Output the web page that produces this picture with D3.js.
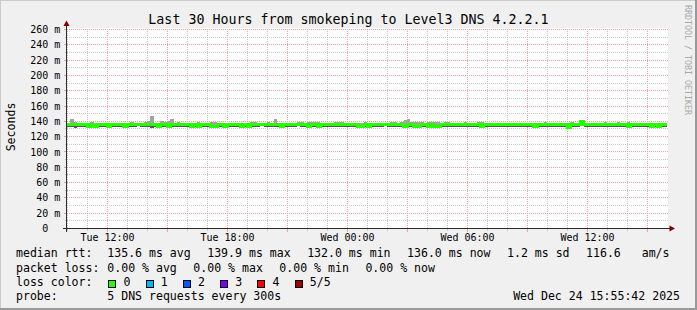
<!DOCTYPE html>
<html>
<head>
<meta charset="utf-8">
<script src="https://cdn.jsdelivr.net/npm/d3@7"></script>
<style>
  body { margin: 0; background: #fff; }
  svg text { font-family: "DejaVu Sans Mono", monospace; fill: #000; white-space: pre; }
</style>
</head>
<body>
<svg id="chart" width="697" height="310"></svg>
<script>
// Graph period: 30 hours, one sample every 10 minutes
const startTime = new Date(2025, 11, 23, 9, 58, 30)
const stepMinutes = 10

// Median round trip time per sample (ms)
const median = [
  135.8,135.6,135.5,135.7,135.6,135.4,133.0,135.5,133.2,135.6,135.7,135.5,132.8,135.6,135.6,135.8,135.5,133.1,135.6,135.7,
  135.6,135.5,135.7,135.6,135.4,135.6,135.8,133.0,135.6,135.5,132.9,135.6,135.7,135.9,136.0,135.8,135.6,133.1,135.7,133.0,
  135.6,135.7,135.5,133.2,133.0,135.6,135.5,133.1,135.6,135.7,135.8,135.6,133.0,135.5,132.9,135.6,135.7,135.6,135.5,135.6,
  135.7,135.6,135.8,135.6,133.0,135.5,135.6,135.7,135.6,135.5,135.6,135.7,133.1,135.6,135.5,132.8,135.6,135.7,135.6,135.5,
  135.6,135.7,135.8,135.6,135.5,135.6,135.7,133.0,133.2,135.6,132.9,135.6,135.5,135.7,135.6,135.8,135.6,135.5,135.6,135.7,
  135.6,133.0,135.6,135.7,133.1,133.0,135.6,135.5,132.9,135.6,133.4,133.2,135.6,135.7,135.6,135.8,135.6,135.5,135.6,135.7,
  135.6,135.7,135.6,135.5,133.0,135.6,135.7,135.6,135.8,135.6,135.5,135.6,135.7,135.6,135.5,135.6,135.7,135.6,135.6,135.5,
  133.1,135.6,135.7,135.6,135.5,135.6,135.7,135.6,135.6,135.5,132.0,135.6,135.7,135.8,139.2,135.7,135.6,135.6,135.5,135.6,
  135.6,135.7,135.6,135.5,135.6,135.7,135.6,135.8,133.0,135.6,135.5,135.6,135.7,135.6,135.6,133.1,135.6,132.9,135.6,136.0
]

// Slowest ping of each sample (top of the smoke)
const pingHi = [
  138.0,143.5,139.5,137.5,137.5,138.0,137.5,139.0,137.5,137.5,138.0,137.5,137.5,137.5,138.0,137.5,137.5,137.5,137.5,139.0,
  137.5,138.0,137.5,139.5,140.0,147.0,138.0,137.5,141.0,139.5,140.0,143.5,137.5,139.5,137.5,137.5,137.5,138.0,137.5,139.5,
  137.5,137.5,137.5,139.5,139.0,137.5,137.5,137.5,137.5,138.0,137.5,137.5,137.5,137.5,137.5,139.5,139.5,137.5,137.5,137.5,
  139.5,137.5,142.5,137.5,137.5,137.5,137.5,137.5,138.0,139.5,139.5,137.5,139.5,139.0,139.5,139.5,137.5,137.5,137.5,137.5,
  139.5,139.5,139.0,137.5,137.5,137.5,137.5,137.5,137.5,139.5,137.5,137.5,137.5,137.5,137.5,137.5,138.0,139.5,139.5,137.5,
  139.5,141.5,143.0,139.5,139.5,139.5,139.0,137.5,139.5,139.5,139.5,139.0,137.5,139.5,139.5,137.5,137.5,137.5,137.5,139.5,
  137.5,137.5,137.5,139.5,139.0,137.5,137.5,137.5,137.5,137.5,137.5,137.5,137.5,137.5,137.5,137.5,137.5,137.5,137.5,137.5,
  137.5,137.5,137.5,139.0,137.5,137.5,137.5,137.5,137.5,137.5,137.5,139.0,137.5,137.5,140.8,137.5,137.5,137.5,137.5,137.5,
  137.5,139.0,137.5,137.5,137.5,139.0,137.5,137.5,139.0,137.5,137.5,137.5,137.5,137.5,137.5,137.5,137.5,137.5,137.5,137.5
]

// Fastest ping of each sample (bottom of the smoke)
const pingLo = [
  132.0,132.0,131.8,132.0,132.5,132.0,131.5,132.0,131.8,132.0,132.0,132.0,131.5,132.0,132.0,133.0,132.0,131.8,132.0,132.0,
  132.0,134.5,132.0,132.0,132.0,131.8,132.0,131.5,132.0,132.0,131.5,132.0,132.0,133.0,132.0,132.0,132.0,131.5,132.0,131.5,
  132.0,132.0,132.0,131.8,131.5,132.0,132.0,131.8,132.0,132.0,132.0,132.0,131.5,132.0,131.5,132.0,132.0,132.0,134.5,132.0,
  132.0,132.0,132.0,132.0,131.5,132.0,132.0,132.0,132.0,134.5,132.0,132.0,131.8,132.0,132.0,131.5,132.0,132.0,132.0,132.0,
  132.0,132.0,133.0,132.0,132.0,132.0,132.0,131.5,131.5,132.0,131.5,132.0,132.0,132.0,132.0,134.5,132.0,132.0,132.0,132.0,
  132.0,131.5,132.0,132.0,131.5,131.5,132.0,132.0,131.5,132.0,131.2,131.2,132.0,132.0,132.0,132.0,132.0,133.0,132.0,132.0,
  132.0,132.0,132.0,132.0,131.5,132.0,132.0,132.0,132.0,132.0,133.0,132.0,132.0,132.0,132.0,132.0,132.0,132.0,132.0,132.0,
  131.5,132.0,132.0,132.0,132.0,132.0,132.0,132.0,132.0,132.0,131.5,132.0,132.0,132.0,134.0,132.0,132.0,132.0,132.0,132.0,
  132.0,132.0,132.0,132.0,132.0,132.0,132.0,132.0,131.5,132.0,132.0,132.0,132.0,132.0,132.0,131.5,132.0,131.5,132.0,132.0
]

// Axis ticks and labels
const yTicks = [0, 20, 40, 60, 80, 100, 120, 140, 160, 180, 200, 220, 240, 260]
const yTickLabels = ["0\u00a0\u00a0", "20 m", "40 m", "60 m", "80 m", "100 m", "120 m", "140 m",
                     "160 m", "180 m", "200 m", "220 m", "240 m", "260 m"]
const yMax = 261.3

// Legend texts
const title = "Last 30 Hours from smokeping to Level3 DNS 4.2.2.1"
const rttSummary = ["135.6 ms avg", "139.9 ms max", "132.0 ms min", "136.0 ms now", "1.2 ms sd", "116.6   am/s"]
const lossSummary = ["0.00 % avg", "0.00 % max", "0.00 % min", "0.00 % now"]
const lossLabels = ["0", "1", "2", "3", "4", "5/5"]
const lossColors = ["#26ff00", "#00b8ff", "#0059ff", "#7e00ff", "#ff0000", "#a00000"]
const probeText = "5 DNS requests every 300s"
const stamp = "Wed Dec 24 15:55:42 2025"

const svg = d3.select("#chart")
const W = 697, H = 310
const x0 = 67, x1 = 667, yTop = 28.5, yBot = 228.5

// Background with rrdtool style shaded border
svg.append("rect").attr("width", W).attr("height", H).attr("fill", "#f0f0f0")
svg.append("path").attr("d", `M0,${H} V0 H${W}`).attr("fill", "none")
  .attr("stroke", "#cbcbcb").attr("stroke-width", 2)
svg.append("path").attr("d", `M0,${H - 1} H${W - 1} V0`).attr("fill", "none")
  .attr("stroke", "#999").attr("stroke-width", 2)
svg.append("rect").attr("x", x0).attr("y", 28).attr("width", x1 - x0 + 1).attr("height", 200).attr("fill", "#fff")

const endTime = d3.timeHour.offset(startTime, 30)
const x = d3.scaleTime().domain([startTime, endTime]).range([x0, x1])
const y = d3.scaleLinear().domain([0, yMax]).range([yBot, yTop])

// Grid lines: minor every hour / 10 ms, major every 3 hours / 20 ms
const grid = svg.append("g").attr("shape-rendering", "crispEdges").attr("stroke-width", 1)
const minorColor = "#c8c8c8", majorColor = "#eba0a0"
const hours = d3.timeHour.range(startTime, endTime)
hours.forEach(h => {
  const major = h.getHours() % 3 == 0
  const c = major ? majorColor : minorColor
  grid.append("line").attr("x1", x(h)).attr("x2", x(h)).attr("y1", yTop).attr("y2", yBot)
    .attr("stroke", c).attr("stroke-dasharray", "1,1")
  grid.append("line").attr("x1", x(h)).attr("x2", x(h)).attr("y1", yBot).attr("y2", yBot + (major ? 3 : 2))
    .attr("stroke", c)
})
d3.range(10, yMax, 10).forEach(v => {
  const major = v % 20 == 0
  const c = major ? majorColor : minorColor
  grid.append("line").attr("x1", x0).attr("x2", x1 + 1).attr("y1", y(v)).attr("y2", y(v))
    .attr("stroke", c).attr("stroke-dasharray", "1,1")
  grid.append("line").attr("x1", x0 - (major ? 3 : 2)).attr("x2", x0).attr("y1", y(v)).attr("y2", y(v))
    .attr("stroke", c)
})

// Smoke and median line
const pts = median.map((m, i) => ({
  t: d3.timeMinute.offset(startTime, i * stepMinutes), m: m, lo: pingLo[i], hi: pingHi[i]
}))
pts.push(Object.assign({}, pts[pts.length - 1], { t: endTime }))

const plot = svg.append("g").attr("shape-rendering", "crispEdges")
plot.append("path").datum(pts)
  .attr("d", d3.area().curve(d3.curveStepAfter).x(d => x(d.t)).y0(d => y(d.m)).y1(d => y(d.hi)))
  .attr("fill", "#a4a4a4")
plot.append("path").datum(pts)
  .attr("d", d3.area().curve(d3.curveStepAfter).x(d => x(d.t)).y0(d => y(d.lo)).y1(d => y(d.m)))
  .attr("fill", "#555")
plot.append("path").datum(pts)
  .attr("d", d3.line().curve(d3.curveStepAfter).x(d => x(d.t)).y(d => y(d.m)))
  .attr("fill", "none").attr("stroke", lossColors[0]).attr("stroke-width", 3)

// Axes with arrows
const axisColor = "#2c2c2c", arrowColor = "#7f0000"
svg.append("line").attr("x1", 66.5).attr("x2", 66.5).attr("y1", 232).attr("y2", 24)
  .attr("stroke", axisColor).attr("shape-rendering", "crispEdges")
svg.append("line").attr("x1", 63).attr("x2", 671).attr("y1", yBot).attr("y2", yBot)
  .attr("stroke", axisColor).attr("shape-rendering", "crispEdges")
svg.append("path").attr("d", "M66.5,20.5 L63.5,26 L69.5,26 Z").attr("fill", arrowColor)
svg.append("path").attr("d", `M675,${yBot} L669.5,${yBot - 3} L669.5,${yBot + 3} Z`).attr("fill", arrowColor)

// Tick labels
svg.append("g").selectAll("text").data(yTicks).join("text")
  .attr("x", 60.4).attr("y", d => y(d) + 3.6)
  .attr("text-anchor", "end").attr("font-size", 10)
  .text((d, i) => yTickLabels[i])

svg.append("g").selectAll("text").data(d3.timeHour.every(6).range(startTime, endTime)).join("text")
  .attr("x", d => x(d)).attr("y", 241)
  .attr("text-anchor", "middle").attr("font-size", 10)
  .text(d3.timeFormat("%a %H:%M"))

svg.append("text").attr("x", 348.5).attr("y", 23.5).attr("text-anchor", "middle")
  .attr("font-size", 13.3).text(title)

svg.append("text").attr("transform", "translate(15,127) rotate(-90)")
  .attr("text-anchor", "middle").attr("font-size", 11.55).text("Seconds")

svg.append("text").attr("transform", "translate(685,5) rotate(90)")
  .attr("font-size", 8.3).style("fill", "#a8a8a8").text("RRDTOOL / TOBI OETIKER")

// Legend
const legendX = 16, valueX = 107.3, gap = 16.5, fs = 11.55
const rows = [257.3, 271.5, 285.7, 299.9]
const rowLabels = ["median rtt:", "packet loss:", "loss color:", "probe:"]
rowLabels.forEach((l, i) => {
  svg.append("text").attr("x", legendX).attr("y", rows[i]).attr("font-size", fs).text(l)
})

const flow = (items, yBase) => {
  let cx = valueX
  items.forEach(s => {
    const t = svg.append("text").attr("x", cx).attr("y", yBase).attr("font-size", fs).text(s)
    cx += t.node().getComputedTextLength() + gap
  })
}
flow(rttSummary, rows[0])
flow(lossSummary, rows[1])

let bx = 108.3
lossLabels.forEach((l, i) => {
  svg.append("rect").attr("x", Math.round(bx) + 0.5).attr("y", rows[2] - 5.2).attr("width", 7).attr("height", 7)
    .attr("fill", lossColors[i]).attr("stroke", "#000").attr("stroke-width", 1)
  const t = svg.append("text").attr("x", bx + 15.3).attr("y", rows[2]).attr("font-size", fs).text(l)
  bx += 15.3 + t.node().getComputedTextLength() + 15
})

svg.append("text").attr("x", valueX).attr("y", rows[3]).attr("font-size", fs).text(probeText)
svg.append("text").attr("x", 680).attr("y", rows[3]).attr("text-anchor", "end").attr("font-size", fs).text(stamp)
</script>
</body>
</html>
